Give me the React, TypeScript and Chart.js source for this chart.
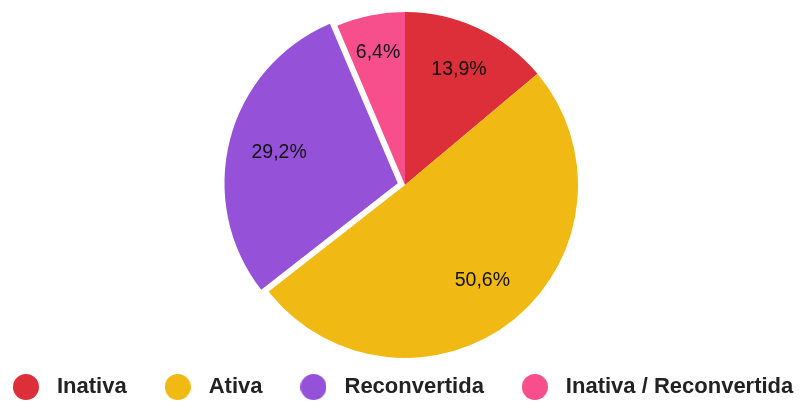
import { useEffect, useRef } from "react";
import { Chart, registerables } from "chart.js";

Chart.register(...registerables);

// ---- data ----
const categories = ["Inativa", "Ativa", "Reconvertida", "Inativa / Reconvertida"];
const shares = [13.9, 50.6, 29.2, 6.4];

// ---- styles ----
const sliceColors = ["#DC2F3A", "#F1B913", "#9552D9", "#F64F8B"];
const sliceOffsets = [0, 0, 30, 0];
const labelRadii = [0.738, 0.71, 0.708, 0.78];
const FONT = '"Liberation Sans", Arial, Helvetica, sans-serif';

function dot(color: string): HTMLCanvasElement {
  const c = document.createElement("canvas");
  c.width = 26;
  c.height = 26;
  const g = c.getContext("2d")!;
  g.fillStyle = color;
  g.beginPath();
  g.arc(13, 13, 13, 0, Math.PI * 2);
  g.fill();
  return c;
}

const sliceLabels = {
  id: "sliceLabels",
  afterDatasetsDraw(chart: any) {
    const meta = chart.getDatasetMeta(0);
    const values = chart.data.datasets[0].data as number[];
    const ctx = chart.ctx as CanvasRenderingContext2D;
    ctx.save();
    ctx.font = `19.5px ${FONT}`;
    ctx.fillStyle = "#111111";
    ctx.textAlign = "center";
    ctx.textBaseline = "middle";
    meta.data.forEach((arc: any, i: number) => {
      const { x, y, startAngle, endAngle, outerRadius } = arc.getProps(
        ["x", "y", "startAngle", "endAngle", "outerRadius"],
        true
      );
      const mid = (startAngle + endAngle) / 2;
      const r = outerRadius * labelRadii[i] + (sliceOffsets[i] || 0) / 4;
      const text = values[i].toFixed(1).replace(".", ",") + "%";
      ctx.fillText(text, x + Math.cos(mid) * r, y + Math.sin(mid) * r);
    });
    ctx.restore();
  },
};

export default function App() {
  const ref = useRef<HTMLCanvasElement | null>(null);

  useEffect(() => {
    if (!ref.current) return;
    const baseGen = (Chart as any).overrides.doughnut.plugins.legend.labels.generateLabels;
    const chart = new Chart(ref.current, {
      type: "pie",
      data: {
        labels: categories,
        datasets: [
          {
            data: shares,
            backgroundColor: sliceColors,
            borderWidth: 0,
            offset: sliceOffsets,
            hoverOffset: 0,
          } as any,
        ],
      },
      options: {
        responsive: false,
        animation: false,
        radius: 173,
        layout: { padding: { top: 25, left: 0, right: 0, bottom: 0 } },
        plugins: {
          legend: {
            position: "bottom",
            align: "start",
            labels: {
              usePointStyle: true,
              pointStyleWidth: 40,
              padding: 31,
              color: "#222222",
              font: { size: 22, weight: "bold", family: FONT },
              generateLabels: (c: any) =>
                baseGen(c).map((it: any, i: number) => ({
                  ...it,
                  pointStyle: dot(sliceColors[i]),
                })),
            },
          },
          tooltip: { enabled: false },
        },
      } as any,
      plugins: [sliceLabels],
    });
    return () => chart.destroy();
  }, []);

  return (
    <div
      style={{
        position: "fixed",
        left: 0,
        top: 0,
        width: 801,
        height: 401,
        overflow: "hidden",
        background: "#ffffff",
      }}
    >
      <canvas
        ref={ref}
        width={860}
        height={408}
        style={{ position: "absolute", left: -25, top: 0, width: 860, height: 408 }}
      />
    </div>
  );
}
